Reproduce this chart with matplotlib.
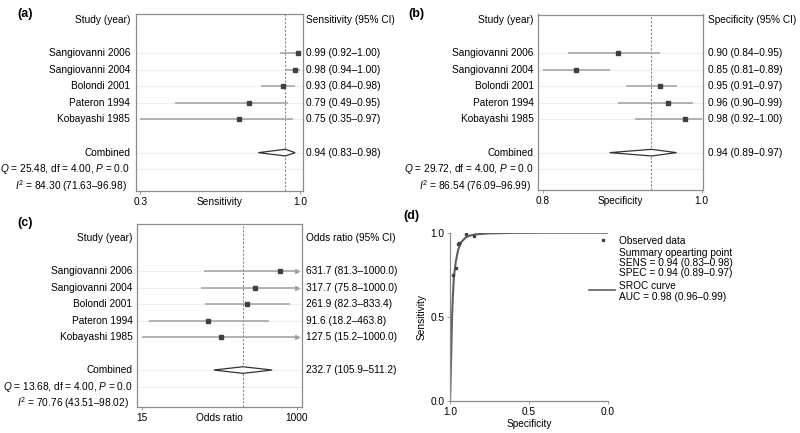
import matplotlib
matplotlib.use("Agg")
import matplotlib.pyplot as plt
from matplotlib.lines import Line2D
import matplotlib.transforms as mtrans

plt.rcParams['font.family'] = ['Liberation Sans', 'DejaVu Sans']
plt.rcParams['mathtext.fontset'] = 'custom'
plt.rcParams['mathtext.rm'] = 'Liberation Sans'
plt.rcParams['mathtext.it'] = 'Liberation Sans:italic'

# ---------------- data ----------------
studies = ["Sangiovanni 2006", "Sangiovanni 2004", "Bolondi 2001", "Pateron 1994", "Kobayashi 1985"]

sens = [0.99, 0.98, 0.93, 0.79, 0.75]
sens_lo = [0.92, 0.94, 0.84, 0.49, 0.35]
sens_hi = [1.00, 1.00, 0.98, 0.95, 0.97]
sens_comb = [0.94, 0.83, 0.98]
sens_q = r"$Q$ = 25.48, df = 4.00, $P$ = 0.0"
sens_i2 = r"$I^2$ = 84.30 (71.63–96.98)"
sens_ticks = [0.35, 1.0]
sens_ticklabels = ["0.3", "1.0"]

spec = [0.90, 0.85, 0.95, 0.96, 0.98]
spec_lo = [0.84, 0.81, 0.91, 0.90, 0.92]
spec_hi = [0.95, 0.89, 0.97, 0.99, 1.00]
spec_comb = [0.94, 0.89, 0.97]
spec_q = r"$Q$ = 29.72, df = 4.00, $P$ = 0.0"
spec_i2 = r"$I^2$ = 86.54 (76.09–96.99)"
spec_ticks = [0.81, 1.0]
spec_ticklabels = ["0.8", "1.0"]

odds = [631.7, 317.7, 261.9, 91.6, 127.5]
odds_lo = [81.3, 75.8, 82.3, 18.2, 15.2]
odds_hi = [1000.0, 1000.0, 833.4, 463.8, 1000.0]
odds_comb = [232.7, 105.9, 511.2]
odds_q = r"$Q$ = 13.68, df = 4.00, $P$ = 0.0"
odds_i2 = r"$I^2$ = 70.76 (43.51–98.02)"
odds_ticks = [15.2, 1000.0]
odds_ticklabels = ["15", "1000"]
odds_cap = 1000.0

# SROC curve
sroc_spec = [1.0, 0.993, 0.987, 0.982, 0.975, 0.963, 0.948, 0.928, 0.90, 0.87, 0.83, 0.75, 0.6, 0.4, 0.0]
sroc_sens = [0.0, 0.25, 0.5, 0.62, 0.74, 0.83, 0.90, 0.945, 0.972, 0.984, 0.991, 0.996, 0.999, 1.0, 1.0]
summary_point = [0.94, 0.94]

GRID = "#ededed"
CI = "#a0a0a0"
PT = "#404040"
SPINE = "#8c8c8c"
FS = 7.3

fig = plt.figure(figsize=(8.0, 4.33), dpi=100)


def forest(rect, est, lo, hi, comb, qtxt, i2txt, header, xlabel, ticks, ticklabels,
           xlim, ylim, log=False, cap=None, label="(a)", label_xy=(0, 0),
           left_x=-0.035, right_x=1.02):
    ax = fig.add_axes(rect)
    if log:
        ax.set_xscale("log")
    ax.set_xlim(*xlim)
    ax.set_ylim(*ylim)
    rows = [2, 3, 4, 5, 6]
    for r in rows + [8, 9]:
        ax.axhline(r, color=GRID, lw=0.8, zorder=0)
    ax.axvline(comb[0], color="#8a8a8a", lw=0.8, ls=(0, (2.0, 1.5)), zorder=1)
    for r, e, l, h in zip(rows, est, lo, hi):
        ax.plot([l, h], [r, r], color=CI, lw=1.1, zorder=2, solid_capstyle="butt")
        ax.plot([e], [r], marker="s", ms=2.6, color=PT, zorder=3, lw=0)
        if cap is not None and h >= cap:
            ax.plot([h], [r], marker=">", ms=2.8, color=CI, zorder=3, lw=0)
    # diamond
    c, cl, ch = comb
    d = 0.2
    ax.fill([cl, c, ch, c, cl], [8, 8 - d, 8, 8 + d, 8], facecolor="white",
            edgecolor="#333333", lw=0.9, zorder=4)
    ax.set_xticks(ticks)
    ax.set_xticklabels(ticklabels)
    ax.minorticks_off()
    ax.set_yticks([])
    ax.tick_params(axis="x", length=2.5, width=0.6, color=SPINE, labelsize=FS, pad=1.5)
    for s in ax.spines.values():
        s.set_color(SPINE)
        s.set_linewidth(0.9)
    tr = mtrans.blended_transform_factory(ax.transAxes, ax.transData)
    ax.text(left_x, 0, "Study (year)", transform=tr, ha="right", va="center", fontsize=FS)
    ax.text(right_x, 0, header, transform=tr, ha="left", va="center", fontsize=FS)
    for r, name in zip(rows, studies):
        ax.text(left_x, r, name, transform=tr, ha="right", va="center", fontsize=FS)
    for r, e, l, h in zip(rows, est, lo, hi):
        if log:
            s = f"{e:.1f} ({l:.1f}–{h:.1f})"
        else:
            s = f"{e:.2f} ({l:.2f}–{h:.2f})"
        ax.text(right_x, r, s, transform=tr, ha="left", va="center", fontsize=FS)
    if log:
        s = f"{c:.1f} ({cl:.1f}–{ch:.1f})"
    else:
        s = f"{c:.2f} ({cl:.2f}–{ch:.2f})"
    ax.text(right_x, 8, s, transform=tr, ha="left", va="center", fontsize=FS)
    ax.text(left_x, 8, "Combined", transform=tr, ha="right", va="center", fontsize=FS)
    ax.text(left_x, 9, qtxt, transform=tr, ha="right", va="center", fontsize=FS)
    ax.text(left_x - 0.02, 10, i2txt, transform=tr, ha="right", va="center", fontsize=FS)
    ax.text(0.5, -0.06, xlabel, transform=ax.transAxes, ha="center", va="center", fontsize=FS)
    fig.text(label_xy[0], label_xy[1], label, fontsize=9, fontweight="bold", ha="left", va="center")
    return ax


H = 433.0
W = 800.0


def rect(l, r, t, b):
    return [l / W, 1 - b / H, (r - l) / W, (b - t) / H]


forest(rect(136, 303, 14.5, 191), sens, sens_lo, sens_hi, sens_comb, sens_q, sens_i2,
       "Sensitivity (95% CI)", "Sensitivity", sens_ticks, sens_ticklabels,
       (0.3317, 1.012), (10.31, -0.32), label="(a)", label_xy=(17 / W, 1 - 14 / H))

forest(rect(538, 703, 14.5, 190), spec, spec_lo, spec_hi, spec_comb, spec_q, spec_i2,
       "Specificity (95% CI)", "Specificity", spec_ticks, spec_ticklabels,
       (0.8044, 1.0016), (10.25, -0.32), label="(b)", label_xy=(408 / W, 1 - 14 / H),
       left_x=-0.025, right_x=1.03)

forest(rect(137, 302, 224, 407), odds, odds_lo, odds_hi, odds_comb, odds_q, odds_i2,
       "Odds ratio (95% CI)", "Odds ratio", odds_ticks, odds_ticklabels,
       (13.28, 1144.6), (10.24, -0.85), log=True, cap=odds_cap,
       label="(c)", label_xy=(17 / W, 1 - 223 / H), left_x=-0.028, right_x=1.024)

# ---------------- (d) SROC ----------------
axd = fig.add_axes(rect(450, 607.7, 232.7, 401))
axd.set_xlim(1.0, 0.0)
axd.set_ylim(0.0, 1.0)
axd.plot(sroc_spec, sroc_sens, color="#5f5f5f", lw=1.5, zorder=2)
axd.plot(spec, sens, ls="none", marker="s", ms=1.9, color=PT, zorder=3)
axd.plot([summary_point[0]], [summary_point[1]], ls="none", marker="s", ms=1.9, color=PT, zorder=3)
axd.set_xticks([1.0, 0.5, 0.0])
axd.set_xticklabels(["1.0", "0.5", "0.0"])
axd.set_yticks([0.0, 0.5, 1.0])
axd.set_yticklabels(["0.0", "0.5", "1.0"])
axd.tick_params(length=2.5, width=0.6, color=SPINE, labelsize=FS, pad=1.5)
for k in ["top", "right"]:
    axd.spines[k].set_visible(False)
for k in ["left", "bottom"]:
    axd.spines[k].set_color(SPINE)
    axd.spines[k].set_linewidth(0.9)
axd.set_xlabel("Specificity", fontsize=FS, labelpad=2)
axd.set_ylabel("Sensitivity", fontsize=FS, labelpad=3)
fig.text(403 / W, 1 - 216 / H, "(d)", fontsize=9, fontweight="bold", ha="left", va="center")

# legend (manual)
fig.add_artist(Line2D([602.7 / W], [1 - 239.5 / H], marker="s", ms=1.9, color=PT, ls="none",
                      transform=fig.transFigure))
fig.add_artist(Line2D([589 / W, 615 / W], [1 - 290 / H, 1 - 290 / H], color="#5f5f5f", lw=1.2,
                      transform=fig.transFigure))
leg_lines = [("Observed data", 240.7), ("Summary opearting point", 253.3),
             ("SENS = 0.94 (0.83–0.98)", 263.3), ("SPEC = 0.94 (0.89–0.97)", 273.3),
             ("SROC curve", 286.0), ("AUC = 0.98 (0.96–0.99)", 297.3)]
for txt, y in leg_lines:
    fig.text(619 / W, 1 - y / H, txt, fontsize=FS, ha="left", va="center")

fig.savefig("out.png", dpi=100)
